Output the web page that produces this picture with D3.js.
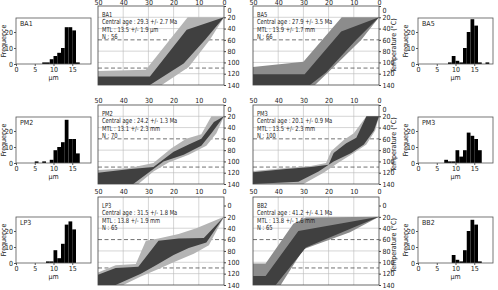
<!DOCTYPE html>
<html>
<head>
<meta charset="utf-8">
<script src="https://cdn.jsdelivr.net/npm/d3@7"></script>
<style>
  body { margin: 0; background: #fff; }
  svg text { font-family: "Liberation Sans Narrow", "DejaVu Sans Condensed", sans-serif; fill: #222; }
</style>
</head>
<body>
<svg width="498" height="290"></svg>
<script>
// samples, left column then right column, row by row
var samples = ["BA1", "BA5", "PM2", "PM3", "LP3", "BB2"];
var centralAges = ["29.3 +/- 2.7", "27.9 +/- 3.5", "24.2 +/- 1.3", "20.1 +/- 0.9", "31.5 +/- 1.8", "41.2 +/- 4.1"];
var mtlValues = ["13.5 +/- 1.9 µm", "13.9 +/- 1.7 mm", "13.1 +/- 2.3 mm", "13.5 +/- 2.3 mm", "13.8 +/- 1.9 mm", "13.8 +/- 1.6 mm"];
var nCounts = [56, 66, 70, 100, 65, 65];

// track length histograms (1 µm bins)
var binStarts = [5, 6, 7, 8, 9, 10, 11, 12, 13, 14, 15, 16, 17, 18];
var histCounts = [
  [0, 0, 1, 1, 3, 5, 7, 10, 23, 23, 21, 1, 0, 0],   // BA1
  [0, 0, 0, 1, 5, 2, 1, 10, 20, 28, 24, 1, 0, 1],   // BA5
  [1, 0, 1, 0, 2, 8, 10, 13, 27, 15, 15, 6, 0, 0],  // PM2
  [0, 0, 2, 1, 1, 8, 4, 8, 19, 17, 15, 8, 0, 0],    // PM3
  [0, 0, 0, 1, 1, 8, 3, 12, 24, 26, 21, 0, 0, 0],   // LP3
  [0, 0, 0, 0, 5, 2, 1, 8, 20, 27, 24, 1, 0, 0]     // BB2
];

// t-T envelopes as [age Ma, temperature °C] polygons
var outerPaths = [
  [[50,115],[31,113],[14.4,20],[0,20],[5.6,60],[14,108],[24.7,140],[50,140]],
  [[50,108],[30,99],[14.8,20],[0,20],[7,60],[18,108],[25.4,140],[50,140]],
  [[50,115],[38,112],[28,103],[21,77],[15,60],[9,52],[5,20],[0,20],[3,50],[7,72],[14,88],[22,102],[28,118],[34,140],[50,140]],
  [[50,117],[38,112],[27,108],[21,103],[19,82],[14,62],[10,50],[5,20],[0,20],[1.5,45],[5,70],[10,85],[16,102],[22,120],[30,140],[50,140]],
  [[50,118],[43,105],[35,103],[31,62],[26,58],[18,50],[11,40],[0,20],[6,70],[12,85],[20,100],[26,112],[33,125],[40,140],[50,140]],
  [[50,102],[45,102],[34,32],[29,21],[0,20],[11.5,47],[30,77],[39,140],[50,140]]
];
var innerPaths = [
  [[50,125],[29.4,125],[14.8,42],[0,20],[7.5,60],[16,102],[29.4,140],[50,140]],
  [[50,121],[29.5,121],[15,45],[0,20],[9,60],[21,118],[27.4,140],[50,140]],
  [[50,120],[38,114],[28,110],[20,83],[14,70],[9,60],[4,30],[0,20],[5,50],[9,72],[16,88],[24,100],[30,120],[36,140],[50,140]],
  [[50,119],[38,114],[27,110],[20,106],[18,85],[13,68],[9,58],[5,20],[0,20],[2,45],[6,70],[11,85],[18,100],[24,118],[32,136],[50,140]],
  [[50,122],[43,110],[34,108],[26,62],[18,58],[8,57],[0,20],[7,65],[14,75],[20,87],[27,105],[33,120],[43,140],[50,140]],
  [[50,124],[45,124],[32,45],[0,20],[29,74],[41,140],[50,140]]
];
var outerColors = ["#b4b4b4", "#8c8c8c", "#b4b4b4", "#b4b4b4", "#b4b4b4", "#8c8c8c"];
var innerColor = "#404040";

var ageTicks = [50, 40, 30, 20, 10, 0];
var tempTicks = [0, 20, 40, 60, 80, 100, 120, 140];
var lengthTicks = [0, 5, 10, 15];
var freqTicks = [0, 10, 20];

var svg = d3.select("svg");

// layout
var histX = [16, 418], histTop = [18, 117, 217], histW = 75, histH = 46;
var pathX = [98, 253], pathW = 126;
var pathTop = [6, 105, 197], pathBottom = [85, 184, 285], pathTempTop = [0, 0, -15];
var ageLabelPad = [0.8, 2.5, 3];

samples.forEach(function(name, i){
  var col = i % 2, row = Math.floor(i / 2);
  drawHist(i, histX[col], histTop[row]);
  drawPath(i, pathX[col], row, col == 1);
});

function squeeze(sel, f){
  sel.each(function(){
    var L = this.getComputedTextLength();
    d3.select(this).attr("textLength", L * f).attr("lengthAdjust", "spacingAndGlyphs");
  });
}

function drawHist(i, x0, y0){
  var g = svg.append("g");
  var x = d3.scaleLinear().domain([0, 20]).range([x0, x0 + histW]);
  var y = d3.scaleLinear().domain([0, 28.75]).range([y0 + histH, y0]);

  g.selectAll("rect.bar")
    .data(binStarts.map(function(b, k){ return {b: b, c: histCounts[i][k]}; }).filter(function(d){ return d.c > 0; }))
    .enter().append("rect")
      .attr("x", function(d){ return x(d.b); })
      .attr("width", function(d){ return x(d.b + 1) - x(d.b); })
      .attr("y", function(d){ return y(d.c); })
      .attr("height", function(d){ return y(0) - y(d.c); })
      .attr("fill", "#000");

  g.append("rect")
    .attr("x", x0).attr("y", y0).attr("width", histW).attr("height", histH)
    .attr("fill", "none").attr("stroke", "#555").attr("stroke-width", 0.8);

  var xa = g.append("g").attr("transform", "translate(0," + (y0 + histH) + ")")
    .call(d3.axisBottom(x).tickValues(lengthTicks).tickSize(2).tickPadding(1));
  var ya = g.append("g").attr("transform", "translate(" + x0 + ",0)")
    .call(d3.axisLeft(y).tickValues(freqTicks).tickSize(2).tickPadding(1));
  [xa, ya].forEach(function(a){
    a.select(".domain").remove();
    a.selectAll("line").attr("stroke", "#555");
    a.selectAll("text").style("font-size", "7px").attr("fill", "#222");
  });

  g.append("text").attr("x", x0 + 4).attr("y", y0 + 8)
    .style("font-size", "7px").text(samples[i]);
  g.append("text").attr("x", x(10)).attr("y", y0 + histH + 16)
    .attr("text-anchor", "middle").style("font-size", "7px").text("µm");
  g.append("text")
    .attr("transform", "translate(" + (x0 - 10) + "," + (y0 + histH / 2) + ") rotate(-90)")
    .attr("text-anchor", "middle").style("font-size", "7px").text("Frequence");
}

function drawPath(i, x0, row, showTitle){
  var g = svg.append("g");
  var y0 = pathTop[row], y1 = pathBottom[row];
  var x = d3.scaleLinear().domain([50, 0]).range([x0, x0 + pathW]);
  var y = d3.scaleLinear().domain([pathTempTop[row], 140]).range([y0, y1]);
  var line = d3.line().x(function(d){ return x(d[0]); }).y(function(d){ return y(d[1]); });

  // grid
  g.selectAll("line.v").data([40, 30, 20, 10]).enter().append("line")
    .attr("x1", function(d){ return x(d); }).attr("x2", function(d){ return x(d); })
    .attr("y1", y0).attr("y2", y1)
    .attr("stroke", "#b8b8b8").attr("stroke-width", 0.6);
  g.selectAll("line.h").data([20, 40, 80, 100, 120]).enter().append("line")
    .attr("x1", x0).attr("x2", x0 + pathW)
    .attr("y1", function(d){ return y(d); }).attr("y2", function(d){ return y(d); })
    .attr("stroke", "#b8b8b8").attr("stroke-width", 0.6);
  // partial annealing zone limits
  g.selectAll("line.paz").data([60, 110]).enter().append("line")
    .attr("x1", x0).attr("x2", x0 + pathW)
    .attr("y1", function(d){ return y(d); }).attr("y2", function(d){ return y(d); })
    .attr("stroke", "#333").attr("stroke-width", 0.7).attr("stroke-dasharray", "4,2.5");

  g.append("path").attr("d", line(outerPaths[i]) + "Z").attr("fill", outerColors[i]);
  g.append("path").attr("d", line(innerPaths[i]) + "Z").attr("fill", innerColor);

  g.append("rect")
    .attr("x", x0).attr("y", y0).attr("width", pathW).attr("height", y1 - y0)
    .attr("fill", "none").attr("stroke", "#444").attr("stroke-width", 0.8);

  var ta = g.append("g").attr("transform", "translate(0," + y0 + ")")
    .call(d3.axisTop(x).tickValues(ageTicks).tickSize(0).tickPadding(ageLabelPad[row]));
  var ra = g.append("g").attr("transform", "translate(" + (x0 + pathW) + ",0)")
    .call(d3.axisRight(y).tickValues(tempTicks).tickSize(2).tickPadding(1.5));
  [ta, ra].forEach(function(a){
    a.select(".domain").remove();
    a.selectAll("line").attr("stroke", "#444");
    a.selectAll("text").style("font-size", "7px").attr("fill", "#222");
  });
  if (row < 2) ra.selectAll(".tick").filter(function(d){ return d == 0; }).select("text").attr("dy", "0.9em");

  var info = [samples[i], "Central age : " + centralAges[i] + " Ma", "MTL : " + mtlValues[i], "N : " + nCounts[i]];
  g.selectAll("text.info").data(info).enter().append("text")
    .attr("x", x0 + 4).attr("y", function(d, k){ return y0 + 10.5 + k * 7.6; })
    .style("font-size", "7px").text(function(d){ return d; })
    .call(squeeze, 0.82);

  if (showTitle) {
    g.append("text")
      .attr("transform", "translate(" + (x0 + pathW + 17) + "," + (y(0) + y(140)) / 2 + ") rotate(-90)")
      .attr("text-anchor", "middle").style("font-size", "7px").text("Temperature (°C)");
  }
}
</script>
</body>
</html>
